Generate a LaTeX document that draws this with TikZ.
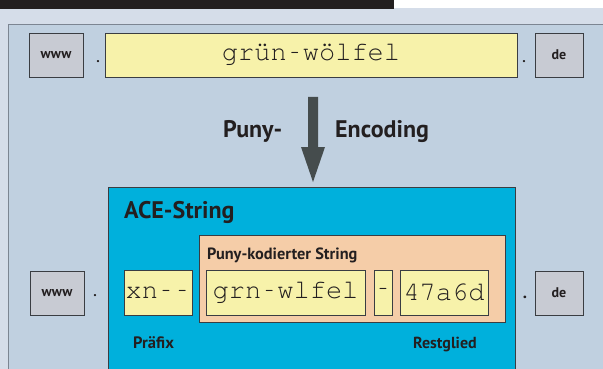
\documentclass[tikz,border=0pt]{standalone}
\usepackage{fontspec}
\setmonofont{texgyrecursor-regular.otf}
\newfontfamily\condb{PT Sans}
\newcommand\shorthy{\makebox[0.6em]{\scalebox{0.55}[1]{-}}}
\definecolor{darkbar}{HTML}{231F20}
\definecolor{outerbg}{HTML}{D5DDE9}
\definecolor{panelbg}{HTML}{C0D0E0}
\definecolor{panelline}{HTML}{7C8592}
\definecolor{greyfill}{HTML}{C8CBD3}
\definecolor{yelfill}{HTML}{F7F2AA}
\definecolor{acefill}{HTML}{00B0DC}
\definecolor{peachfill}{HTML}{F5CDA8}
\definecolor{arrowcol}{HTML}{454C4D}
\definecolor{boxline}{HTML}{3A3D42}
\definecolor{txt}{HTML}{231F20}
\tikzset{
  gbox/.style={draw=boxline, fill=greyfill, line width=0.8pt, inner sep=0pt, text=txt,
    font=\condb\bfseries\fontsize{14}{14}\selectfont},
  ybox/.style={draw=boxline, fill=yelfill, line width=0.8pt, inner sep=0pt, text=txt,
    font=\ttfamily\fontsize{27}{27}\selectfont},
  lbl/.style={inner sep=0pt, text=txt, anchor=base west, font=\condb\bfseries\fontsize{#1}{#1}\selectfont},
  dotlbl/.style={inner sep=0pt, text=txt, font=\condb\bfseries\fontsize{14}{14}\selectfont}
}
\begin{document}
\begin{tikzpicture}[x=1pt,y=-1pt]
\useasboundingbox (0,0) rectangle (603,369);
% backgrounds
\fill[outerbg] (0,0) rectangle (603,369);
\fill[white] (394,0) rectangle (603,8);
\fill[darkbar] (0,0) rectangle (394,9);
\filldraw[fill=panelbg, draw=panelline, line width=0.9pt] (8.7,380) -- (8.7,24.7) -- (620,24.7);
\fill[panelbg] (9.2,25.2) rectangle (610,380);
% top row
\node[gbox, minimum width=54, minimum height=44] (www1) at (56,55) {www};
\node[ybox, minimum width=412, minimum height=44] (name1) at (311,55) {grün\shorthy wölfel};
\node[gbox, minimum width=48, minimum height=44] (de1) at (559,55) {de};
\node[dotlbl] (dot1) at (98,62) {.};
\node[dotlbl] (dot2) at (524,62) {.};
% arrow
\fill[arrowcol] (308,97) -- (318,97) -- (318,147) -- (325,147) -- (313,182) -- (301,147) -- (308,147) -- cycle;
\node[lbl=24] (puny) at (223,138) {Puny-};
\node[lbl=24] (enc) at (335,138) {Encoding};
% ACE box
\draw[fill=acefill, draw=boxline, line width=0.9pt] (108,380) -- (108,187) -- (515,187) -- (515,380);
\node[lbl=24] (ace) at (124,218) {ACE-String};
\draw[fill=peachfill, draw=boxline, line width=0.9pt] (199,235) rectangle (505,322);
\node[lbl=16.3] (pks) at (207,259) {Puny-kodierter String};
% lower row
\node[gbox, minimum width=54, minimum height=44] (www2) at (57,293) {www};
\node[gbox, minimum width=48, minimum height=44] (de2) at (559,293) {de};
\node[dotlbl] (dot3) at (95,296) {.};
\node[dotlbl, font=\condb\bfseries\fontsize{17}{17}\selectfont] (dot4) at (525,297) {.};
\node[ybox, minimum width=68, minimum height=45] (xn) at (158,292.5) {xn\shorthy\shorthy};
\node[ybox, minimum width=159, minimum height=45] (grn) at (285.5,292.5) {grn\shorthy wlfel};
\node[ybox, minimum width=18, minimum height=45] (dash) at (383,292.5) {\shorthy};
\node[ybox, minimum width=88, minimum height=45] (rest) at (444,292.5) {47a6d};
\node[lbl=16.5] (praefix) at (133,348) {Präfix};
\node[lbl=16] (restgl) at (413,348) {Restglied};
\end{tikzpicture}
\end{document}
